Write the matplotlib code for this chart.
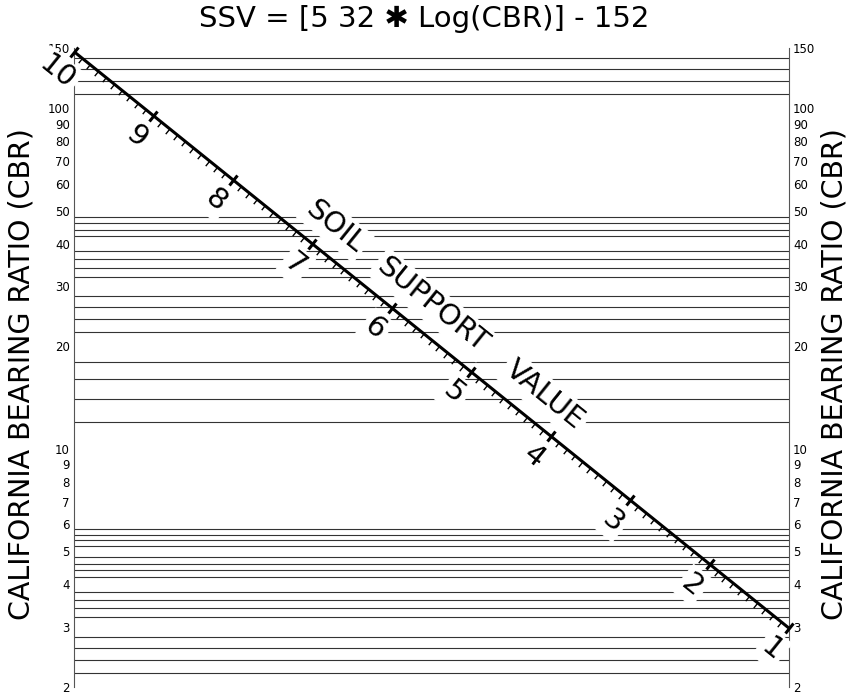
import matplotlib.pyplot as plt
import numpy as np
from matplotlib.markers import MarkerStyle
from matplotlib.path import Path
from matplotlib.transforms import Affine2D

# relazione del titolo: SSV = 5.32 * log(CBR) - 1.52
coef_a = 5.32
coef_b = 1.52

# scala SSV sulla diagonale
ssv_major = [1, 2, 3, 4, 5, 6, 7, 8, 9, 10]
ssv_minor = [round(v, 1) for v in np.arange(1.1, 10.0, 0.1) if abs(v - round(v)) > 1e-6]

# scala CBR (assi laterali)
cbr_ticks = [2, 3, 4, 5, 6, 7, 8, 9, 10, 20, 30, 40, 50, 60, 70, 80, 90, 100, 150]

# linee orizzontali della griglia
cbr_lines = [2.2, 2.4, 2.6, 2.8, 3.2, 3.4, 3.6, 3.8, 4.2, 4.4, 4.6, 4.8,
             5.2, 5.4, 5.6, 5.8, 12, 14, 16, 18, 22, 24, 26, 28,
             32, 34, 36, 38, 42, 44, 46, 48, 110, 120, 130, 140]

# parole dell'etichetta sulla diagonale (posizione in unita' SSV)
words = ["SOIL", "SUPPORT", "VALUE"]
word_pos = [6.93, 5.71, 4.30]


def cbr_of(ssv):
    return 10 ** ((np.asarray(ssv, dtype=float) + coef_b) / coef_a)


fig = plt.figure(figsize=(8.48, 6.94), dpi=100)
ax = fig.add_axes([74 / 848, 7 / 694, 715 / 848, 639 / 694])
ax.set_yscale('log')
ax.set_ylim(2, 150)
ax.set_xlim(10, 1)

ax.hlines(cbr_lines, 10, 1, color='#333333', lw=0.8, zorder=1)

for side in ['top', 'bottom']:
    ax.spines[side].set_visible(False)
for side in ['left', 'right']:
    ax.spines[side].set_color('#555555')
    ax.spines[side].set_linewidth(0.8)

ax.set_xticks([])
ax.set_yticks(cbr_ticks)
ax.set_yticklabels([str(v) for v in cbr_ticks])
ax.yaxis.set_minor_locator(plt.NullLocator())
ax.tick_params(axis='y', length=0, labelsize=8.5, left=False, right=False,
               labelleft=True, labelright=True, pad=3)

# angolo della diagonale in pixel
p0 = ax.transData.transform((10, float(cbr_of(10))))
p1 = ax.transData.transform((1, float(cbr_of(1))))
alpha = np.degrees(np.arctan2(p1[1] - p0[1], p1[0] - p0[0]))
sa, ca = np.sin(np.radians(alpha)), np.cos(np.radians(alpha))

# diagonale e tacche
ax.plot(ssv_major, cbr_of(ssv_major), color='black', lw=2.2, zorder=5,
        clip_on=False, solid_capstyle='butt')
major_mk = MarkerStyle('|', transform=Affine2D().rotate_deg(alpha))
ax.plot(ssv_major, cbr_of(ssv_major), ls='none', marker=major_mk, ms=10,
        mew=2.2, color='black', zorder=6, clip_on=False)
minor_mk = MarkerStyle(Path([(0, 0), (0, -1)]), transform=Affine2D().rotate_deg(alpha))
ax.plot(ssv_minor, cbr_of(ssv_minor), ls='none', marker=minor_mk, ms=8.6,
        mew=1.0, color='black', mfc='none', zorder=6, clip_on=False)

box = dict(boxstyle='square,pad=0.12', fc='white', ec='none')

# numeri della scala SSV (lato in basso a sinistra)
off = 19.5
for v in ssv_major:
    ax.annotate(str(v), xy=(v, float(cbr_of(v))), xytext=(sa * off, -ca * off),
                textcoords='offset points', rotation=alpha, ha='center',
                va='center', fontsize=21, bbox=box, zorder=3,
                annotation_clip=False)

# SOIL SUPPORT VALUE (lato in alto a destra)
off_w = 20
for w, s in zip(words, word_pos):
    ax.annotate(w, xy=(s, float(cbr_of(s))), xytext=(-sa * off_w, ca * off_w),
                textcoords='offset points', rotation=alpha, ha='center',
                va='center', fontsize=21, bbox=box, zorder=3)

fig.text(0.5, 1 - 19 / 694, "SSV = [5 32 \u2731 Log(CBR)] - 152",
         ha='center', va='center', fontsize=21)
ylab = "CALIFORNIA BEARING RATIO (CBR)"
fig.text(22 / 848, 1 - 374 / 694, ylab, rotation=90, ha='center', va='center', fontsize=20.5)
fig.text(835 / 848, 1 - 374 / 694, ylab, rotation=90, ha='center', va='center', fontsize=20.5)

fig.savefig('out.png', dpi=100)
